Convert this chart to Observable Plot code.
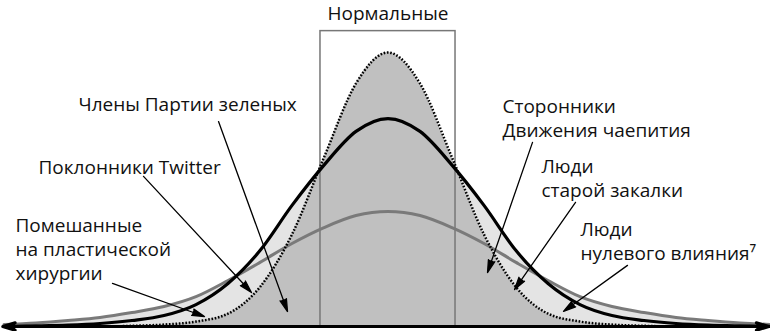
<!DOCTYPE html>
<html><head><meta charset="utf-8">
<script src="https://cdn.jsdelivr.net/npm/d3@7"></script>
<script src="https://cdn.jsdelivr.net/npm/@observablehq/plot@0.6"></script>
<style>
html,body{margin:0;padding:0;background:#fff;}
#chart svg{display:block;}
</style></head><body><div id="chart"></div>
<script>
// Positions along the trait axis (abstract units, 0 = centre)
const xPos = [-6,-5.5,-5,-4.5,-4,-3.5,-3,-2.5,-2,-1.5,-1,-0.5,0,0.5,1,1.5,2,2.5,3,3.5,4,4.5,5,5.5,6];
// Narrow dotted curve
const tallCurve = [0,0,0,0,0.0025,0.007,0.018,0.047,0.144,0.336,0.617,0.887,1.000,0.887,0.617,0.336,0.144,0.047,0.018,0.007,0.0025,0,0,0,0];
// Solid black curve
const midCurve = [0,0.002,0.005,0.011,0.022,0.040,0.080,0.157,0.277,0.442,0.589,0.712,0.759,0.712,0.589,0.442,0.277,0.157,0.080,0.040,0.022,0.011,0.005,0.002,0];
// Wide grey curve
const wideCurve = [0.007,0.013,0.022,0.033,0.051,0.073,0.109,0.168,0.234,0.303,0.361,0.405,0.420,0.405,0.361,0.303,0.234,0.168,0.109,0.073,0.051,0.033,0.022,0.013,0.007];

// "Normal" band
const bandTitle = "Нормальные";
const bandEdges = [-1.055, 1.055];
const bandTop = 1.078;
const bandTitleY = 1.12;

// Annotation labels
const labelTexts = [
  "Члены Партии зеленых",
  "Поклонники Twitter",
  "Помешанные\nна пластической\nхирургии",
  "Сторонники\nДвижения чаепития",
  "Люди\nстарой закалки",
  "Люди\nнулевого влияния⁷"
];
const labelX = [-4.836, -5.461, -5.82, 1.789, 2.398, 3.008];
const labelY = [0.785, 0.558, 0.168, 0.693, 0.474, 0.241];
// Pointer arrows: start and tip
const arrowX1 = [-2.648, -3.82, -4.305, 2.258, 2.93, 3.742];
const arrowY1 = [0.748, 0.548, 0.157, 0.672, 0.453, 0.223];
const arrowX2 = [-1.570, -2.133, -2.867, 1.555, 1.977, 2.742];
const arrowY2 = [0.0547, 0.124, 0.0365, 0.197, 0.135, 0.055];
// Horizontal axis ends
const axisEnds = [-6.02, 5.95];

const rows = xPos.map((x, i) => ({x, tall: tallCurve[i], mid: midCurve[i], wide: wideCurve[i]}));
const labels = labelTexts.map((t, i) => ({t, x: labelX[i], y: labelY[i]}));
const arrows = arrowX1.map((x1, i) => ({x1, y1: arrowY1[i], x2: arrowX2[i], y2: arrowY2[i]}));
const axisArrows = axisEnds.map(e => ({x1: 0, y1: 0, x2: e, y2: 0}));
const band = [{x1: bandEdges[0], x2: bandEdges[1], y1: 0, y2: bandTop}];
const curve = "monotone-x";
const font = "'Open Sans', sans-serif";

const chart = Plot.plot({
  width: 770, height: 331, margin: 0,
  x: {domain: [-6, 6], range: [3.5, 771.5], axis: null},
  y: {domain: [0, 1], range: [326, 52], axis: null},
  style: {background: "#fff", fontFamily: font, overflow: "visible"},
  marks: [
    Plot.areaY(rows, {x: "x", y: "wide", fill: "#e4e4e4", curve}),
    Plot.areaY(rows, {x: "x", y: "mid", fill: "#e4e4e4", curve}),
    Plot.areaY(rows, {x: "x", y: "tall", fill: "#c0c0c0", curve}),
    Plot.rect(band, {x1: "x1", x2: "x2", y1: "y1", y2: "y2", fill: "none", stroke: "#777", strokeWidth: 1.5}),
    Plot.line(rows, {x: "x", y: "wide", stroke: "#7a7a7a", strokeWidth: 3, curve}),
    Plot.line(rows, {x: "x", y: "mid", stroke: "#000", strokeWidth: 3.2, curve}),
    Plot.line(rows, {x: "x", y: "tall", stroke: "#000", strokeWidth: 2.5, strokeDasharray: "1.6,1.7", strokeLinecap: "butt", curve}),
    Plot.arrow(arrows, {x1: "x1", y1: "y1", x2: "x2", y2: "y2", stroke: "#000", fill: "#000", strokeWidth: 1.3, headLength: 15, headAngle: 30}),
    Plot.arrow(axisArrows, {x1: "x1", y1: "y1", x2: "x2", y2: "y2", stroke: "#000", fill: "#000", strokeWidth: 3, headLength: 6.5, headAngle: 34}),
    Plot.text(labels, {x: "x", y: "y", text: "t", textAnchor: "start", lineAnchor: "bottom", fontSize: 19, lineHeight: 1.263, fill: "#111", fontFamily: font}),
    Plot.text([bandTitle], {x: 0, y: bandTitleY, text: d => d, textAnchor: "middle", lineAnchor: "bottom", fontSize: 19, fill: "#111", fontFamily: font})
  ]
});
document.getElementById("chart").appendChild(chart);
</script>
</body></html>
